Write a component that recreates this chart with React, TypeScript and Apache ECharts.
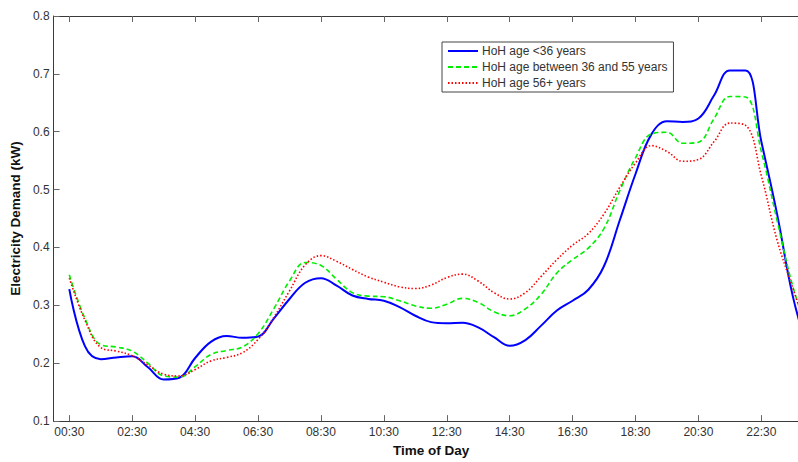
import React, { useEffect, useRef } from "react";
import * as echarts from "echarts";

const times: string[] = [
  "00:00", "00:30", "01:00", "01:30", "02:00", "02:30", "03:00", "03:30", "04:00",
  "04:30", "05:00", "05:30", "06:00", "06:30", "07:00", "07:30", "08:00",
  "08:30", "09:00", "09:30", "10:00", "10:30", "11:00", "11:30", "12:00",
  "12:30", "13:00", "13:30", "14:00", "14:30", "15:00", "15:30", "16:00",
  "16:30", "17:00", "17:30", "18:00", "18:30", "19:00", "19:30", "20:00",
  "20:30", "21:00", "21:30", "22:00", "22:30", "23:00", "23:30", "24:00",
];

const tickLabels: string[] = [
  "00:30", "02:30", "04:30", "06:30", "08:30", "10:30",
  "12:30", "14:30", "16:30", "18:30", "20:30", "22:30",
];

const seriesNames: string[] = [
  "HoH age <36 years",
  "HoH age between 36 and 55 years",
  "HoH age 56+ years",
];

const young: (number | null)[] = [
  null,
  0.328, 0.229, 0.207, 0.210, 0.212, 0.193, 0.172, 0.175,
  0.209, 0.237, 0.247, 0.244, 0.246, 0.277, 0.311, 0.339,
  0.347, 0.334, 0.317, 0.311, 0.308, 0.297, 0.282, 0.271,
  0.269, 0.270, 0.262, 0.245, 0.230, 0.240, 0.265, 0.291,
  0.308, 0.327, 0.368, 0.447, 0.527, 0.595, 0.618, 0.617,
  0.623, 0.663, 0.706, 0.706, 0.583, 0.458, 0.316, 0.220,
];

const middle: (number | null)[] = [
  null,
  0.353, 0.277, 0.232, 0.228, 0.221, 0.200, 0.178, 0.176,
  0.194, 0.215, 0.222, 0.228, 0.251, 0.294, 0.342, 0.374,
  0.369, 0.345, 0.322, 0.316, 0.315, 0.308, 0.299, 0.295,
  0.302, 0.312, 0.305, 0.289, 0.282, 0.294, 0.319, 0.356,
  0.379, 0.399, 0.433, 0.498, 0.555, 0.596, 0.599, 0.580,
  0.582, 0.623, 0.661, 0.660, 0.566, 0.447, 0.333, 0.250,
];

const senior: (number | null)[] = [
  null,
  0.347, 0.274, 0.227, 0.221, 0.213, 0.197, 0.181, 0.178,
  0.189, 0.204, 0.210, 0.218, 0.241, 0.279, 0.325, 0.370,
  0.386, 0.376, 0.362, 0.349, 0.340, 0.332, 0.329, 0.335,
  0.348, 0.354, 0.342, 0.322, 0.311, 0.322, 0.350, 0.379,
  0.404, 0.424, 0.458, 0.504, 0.546, 0.576, 0.566, 0.549,
  0.552, 0.583, 0.615, 0.611, 0.524, 0.413, 0.330, 0.250,
];

const FONT = "'Liberation Sans', Arial, sans-serif";
const TEXT = "#333333";
const AXIS = "#3a3a3a";
const TICK = "#666666";

export default function App() {
  const ref = useRef<HTMLDivElement>(null);

  useEffect(() => {
    if (!ref.current) return;
    const chart = echarts.init(ref.current, undefined, { renderer: "svg" });
    const isTick = (_i: number, v: string) => tickLabels.indexOf(v) >= 0;

    chart.setOption({
      animation: false,
      backgroundColor: "#ffffff",
      textStyle: { fontFamily: FONT },
      grid: { left: 52.5, right: 11.5, top: 16, bottom: 35, containLabel: false },
      legend: {
        show: true,
        orient: "vertical",
        left: 442,
        top: 42,
        padding: [3, 6, 3, 5],
        itemWidth: 30,
        itemHeight: 12,
        itemGap: 4,
        borderColor: "#444444",
        borderWidth: 1,
        backgroundColor: "#ffffff",
        data: seriesNames,
        itemStyle: { opacity: 0 },
        textStyle: { fontFamily: FONT, fontSize: 12, color: TEXT, padding: [0, 0, 0, -1] },
      },
      xAxis: [
        {
          type: "category",
          data: times,
          boundaryGap: false,
          position: "bottom",
          name: "Time of Day",
          nameLocation: "middle",
          nameGap: 17,
          nameTextStyle: { fontFamily: FONT, fontSize: 13.5, fontWeight: "bold", color: "#111111" },
          axisLine: { show: true, lineStyle: { color: AXIS, width: 1 } },
          axisTick: { show: true, inside: true, length: 6, interval: isTick, lineStyle: { color: TICK } },
          axisLabel: { show: true, interval: isTick, fontFamily: FONT, fontSize: 12, color: TEXT, margin: 5 },
          splitLine: { show: false },
        },
        {
          type: "category",
          data: times,
          boundaryGap: false,
          position: "top",
          axisLine: { show: true, lineStyle: { color: AXIS, width: 1 } },
          axisTick: { show: true, inside: true, length: 6, interval: isTick, lineStyle: { color: TICK } },
          axisLabel: { show: false },
          splitLine: { show: false },
        },
      ],
      yAxis: [
        {
          type: "value",
          min: 0.1,
          max: 0.8,
          interval: 0.1,
          position: "left",
          name: "Electricity Demand (kW)",
          nameLocation: "middle",
          nameGap: 22,
          nameTextStyle: { fontFamily: FONT, fontSize: 13.5, fontWeight: "bold", color: "#111111" },
          axisLine: { show: true, lineStyle: { color: AXIS, width: 1 } },
          axisTick: { show: true, inside: true, length: 6, lineStyle: { color: TICK } },
          axisLabel: {
            fontFamily: FONT,
            fontSize: 12,
            color: TEXT,
            margin: 4,
            formatter: (v: number) => v.toFixed(1),
          },
          splitLine: { show: false },
        },
        {
          type: "value",
          min: 0.1,
          max: 0.8,
          interval: 0.1,
          position: "right",
          axisLine: { show: true, lineStyle: { color: AXIS, width: 1 } },
          axisTick: { show: true, inside: true, length: 6, lineStyle: { color: TICK } },
          axisLabel: { show: false },
          splitLine: { show: false },
        },
      ],
      series: [
        {
          name: seriesNames[0],
          type: "line",
          data: young,
          smooth: 0.4,
          symbol: "none",
          showSymbol: false,
          lineStyle: { color: "#0000ff", width: 2, type: "solid" },
          itemStyle: { color: "#0000ff" },
        },
        {
          name: seriesNames[1],
          type: "line",
          data: middle,
          smooth: 0.4,
          symbol: "none",
          showSymbol: false,
          lineStyle: { color: "#00ee00", width: 1.6, type: [5, 3] },
          itemStyle: { color: "#00ee00" },
        },
        {
          name: seriesNames[2],
          type: "line",
          data: senior,
          smooth: 0.4,
          symbol: "none",
          showSymbol: false,
          lineStyle: { color: "#ff0000", width: 1.6, type: [1.5, 2] },
          itemStyle: { color: "#ff0000" },
        },
      ],
    });

    return () => chart.dispose();
  }, []);

  return (
    <div
      style={{
        position: "absolute",
        left: 0,
        top: 0,
        width: 798,
        height: 462,
        overflow: "hidden",
        background: "#ffffff",
      }}
    >
      <div ref={ref} style={{ width: 820, height: 462 }} />
    </div>
  );
}
